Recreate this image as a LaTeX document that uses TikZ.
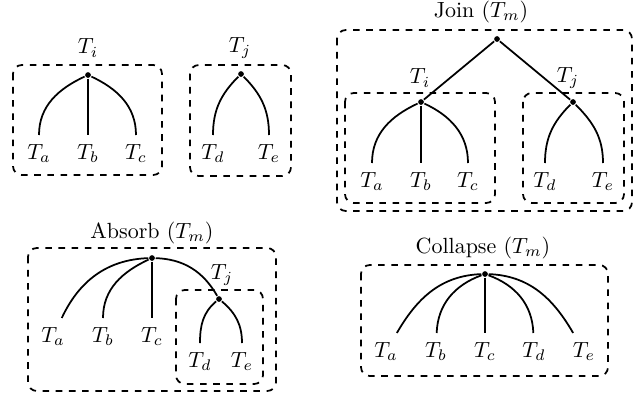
\documentclass[tikz,border=0pt]{standalone}
\usepackage{tikz}
\usepackage{amsmath}

\begin{document}
\begin{tikzpicture}[x=0.016cm, y=0.016cm, thick,
    dot/.style={circle,fill,inner sep=0pt,minimum size=2.6pt},
    leaf/.style={anchor=north,inner sep=4pt},
    group/.style={draw,dashed,rounded corners}]
  \useasboundingbox (0,0) rectangle (641,-393);

  % T_i
  \draw[group] (13,-65) rectangle (162,-175);
  \node (ti) at (88,-48) {$T_i$};
  \node[dot] (ri) at (88,-75) {};
  \node[leaf] (ia) at (39,-135) {$T_a$};
  \node[leaf] (ib) at (88,-135) {$T_b$};
  \node[leaf] (ic) at (136,-135) {$T_c$};
  \draw (ri) to[out=205,in=90] (ia);
  \draw (ri) -- (ib);
  \draw (ri) to[out=-25,in=90] (ic);

  % T_j
  \draw[group] (190,-65) rectangle (291,-176);
  \node (tj) at (240,-48) {$T_j$};
  \node[dot] (rj) at (241,-74) {};
  \node[leaf] (jd) at (213,-135) {$T_d$};
  \node[leaf] (je) at (269,-135) {$T_e$};
  \draw (rj) to[out=225,in=90] (jd);
  \draw (rj) to[out=-45,in=90] (je);

  % join
  \node (join) at (481,-12) {Join ($T_m$)};
  \draw[group] (337,-30) rectangle (632,-211);
  \draw[group] (345,-93) rectangle (495,-203);
  \draw[group] (523,-93) rectangle (624,-203);
  \node[dot] (rm) at (497,-39) {};
  \node[dot] (mi) at (421,-102) {};
  \node[dot] (mj) at (573,-102) {};
  \node (mti) at (420,-78) {$T_i$};
  \node (mtj) at (568,-78) {$T_j$};
  \draw (rm) -- (mi);
  \draw (rm) -- (mj);
  \node[leaf] (ma) at (372,-163) {$T_a$};
  \node[leaf] (mb) at (421,-163) {$T_b$};
  \node[leaf] (mc) at (468,-163) {$T_c$};
  \node[leaf] (md) at (545,-163) {$T_d$};
  \node[leaf] (me) at (603,-163) {$T_e$};
  \draw (mi) to[out=205,in=90] (ma);
  \draw (mi) -- (mb);
  \draw (mi) to[out=-25,in=90] (mc);
  \draw (mj) to[out=225,in=90] (md);
  \draw (mj) to[out=-45,in=90] (me);

  % absorb
  \node (absorb) at (152,-233) {Absorb ($T_m$)};
  \draw[group] (28,-248) rectangle (276,-391);
  \draw[group] (176,-290) rectangle (263,-384);
  \node[dot] (ra) at (152,-258) {};
  \node[dot] (aj) at (219,-299) {};
  \node (atj) at (222,-275) {$T_j$};
  \node[leaf] (aa) at (53,-318) {$T_a$};
  \node[leaf] (ab) at (103,-318) {$T_b$};
  \node[leaf] (ac) at (152,-318) {$T_c$};
  \node[leaf] (ad) at (200,-343) {$T_d$};
  \node[leaf] (ae) at (242,-343) {$T_e$};
  \draw (ra) to[out=182,in=65] (aa);
  \draw (ra) to[out=205,in=90] (ab);
  \draw (ra) -- (ac);
  \draw (ra) to[out=-2,in=120] (aj);
  \draw (aj) to[out=220,in=90] (ad);
  \draw (aj) to[out=-40,in=90] (ae);

  % collapse
  \node (collapse) at (483,-248) {Collapse ($T_m$)};
  \draw[group] (361,-265) rectangle (608,-376);
  \node[dot] (rc) at (485,-274) {};
  \node[leaf] (ca) at (386,-333) {$T_a$};
  \node[leaf] (cb) at (436,-333) {$T_b$};
  \node[leaf] (cc) at (485,-333) {$T_c$};
  \node[leaf] (cd) at (534,-333) {$T_d$};
  \node[leaf] (ce) at (584,-333) {$T_e$};
  \draw (rc) to[out=182,in=60] (ca);
  \draw (rc) to[out=200,in=88] (cb);
  \draw (rc) -- (cc);
  \draw (rc) to[out=-20,in=92] (cd);
  \draw (rc) to[out=-2,in=120] (ce);
\end{tikzpicture}
\end{document}
